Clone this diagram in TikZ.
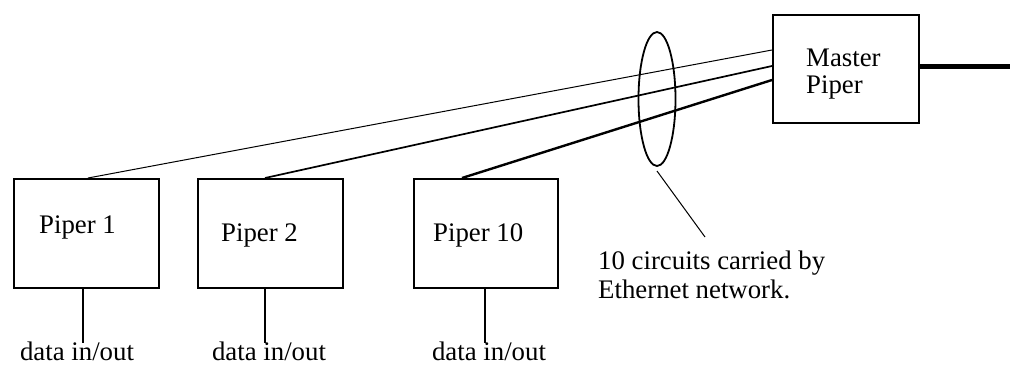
\documentclass[tikz,border=0pt]{standalone}
\usepackage{fontspec}
\setmainfont{Liberation Serif}
\usetikzlibrary{shapes.geometric}
\begin{document}
\begin{tikzpicture}[x=1pt,y=-1pt,
  box/.style={draw,line width=1.5pt,inner sep=0pt,minimum width=#1},
  lbl/.style={inner sep=0pt,font=\fontsize{26.8}{29}\selectfont},
  thinw/.style={line width=1pt},
  medw/.style={line width=1.7pt},
  thickw/.style={line width=2.4pt}]
\useasboundingbox (0,0) rectangle (1010,365);
% boxes
\node[box=146pt,minimum height=108pt,anchor=north west] (m) at (772,14) {};
\node[box=145pt,minimum height=109pt,anchor=north west] (p1) at (13,178) {};
\node[box=145pt,minimum height=109pt,anchor=north west] (p2) at (197,178) {};
\node[box=144pt,minimum height=109pt,anchor=north west] (p10) at (413,178) {};
% labels in boxes
\node[lbl,anchor=west] (tm1) at (806,58) {Master};
\node[lbl,anchor=west] (tm2) at (806,87) {Piper};
\node[lbl,anchor=west] (t1) at (39,227) {Piper 1};
\node[lbl,anchor=west] (t2) at (221,235) {Piper 2};
\node[lbl,anchor=west] (t10) at (433,235) {Piper 10};
% data labels
\node[lbl,anchor=north] (d1) at (77,342) {data in/out};
\node[lbl,anchor=north] (d2) at (269,342) {data in/out};
\node[lbl,anchor=north] (d10) at (489,342) {data in/out};
% circuits label
\node[lbl,anchor=north west,align=left] (ct) at (598,251) {10 circuits carried by\\Ethernet network.};
% ellipse
\node[draw,ellipse,line width=1.8pt,minimum width=37pt,minimum height=134pt,inner sep=0pt] (el) at (657,99) {};
% connectors
\coordinate (a1) at (88,178);
\coordinate (a2) at (265,178);
\coordinate (a10) at (462,178);
\coordinate (b1) at (772,50);
\coordinate (b2) at (772,66);
\coordinate (b10) at (772,80);
\draw[thinw] (a1) -- (b1);
\draw[medw] (a2) -- (b2);
\draw[thickw] (a10) -- (b10);
\coordinate (out) at (1010,66);
\draw[line width=5pt] (m.east |- out) -- (out);
% data lines
\draw[line width=1.6pt] (p1.south -| 83,0) -- (83,343);
\draw[line width=1.6pt] (p2.south -| 265,0) -- (265,343);
\draw[line width=1.6pt] (p10.south -| 485,0) -- (485,343);
% leader
\coordinate (l1) at (657,171);
\coordinate (l2) at (705,237);
\draw[thinw] (l1) -- (l2);
\end{tikzpicture}
\end{document}
